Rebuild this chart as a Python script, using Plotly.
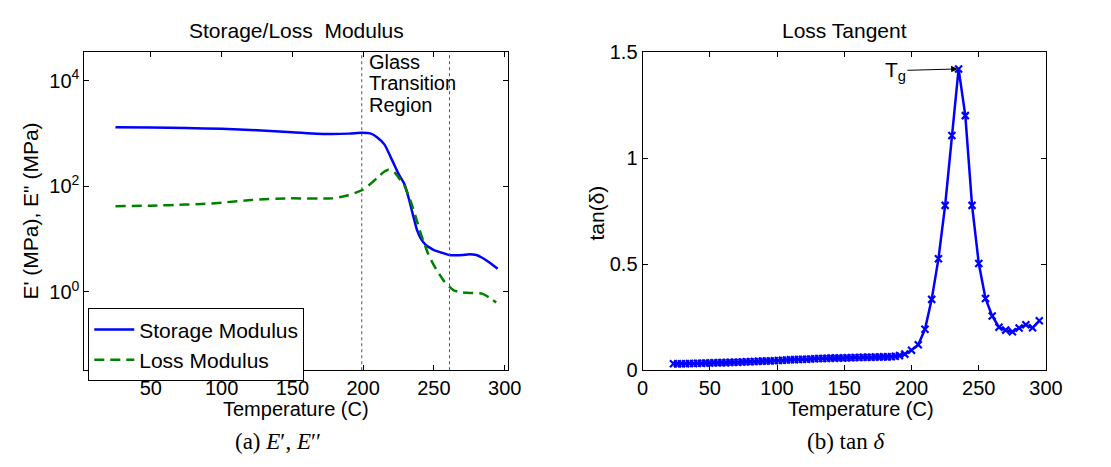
import plotly.graph_objects as go

# ---------------- data ----------------
# Left panel: storage / loss modulus (MPa) vs temperature (C)
storage_temp = [25, 50, 75, 100, 125, 150, 175, 190, 199, 205, 210, 215, 220, 225, 229,
                232, 235, 238, 241, 244, 247, 250, 255, 261, 265, 270, 275, 280, 285, 290, 295]
storage_mod = [1310, 1290, 1260, 1220, 1150, 1050, 975, 990, 1025, 1000, 840, 620, 330, 171, 112,
               62, 30, 15, 10, 7.9, 6.9, 6.2, 5.6, 5.0, 4.95, 5.0, 5.2, 5.0, 4.3, 3.5, 2.75]

loss_temp = [25, 50, 75, 86, 100, 121, 148, 178, 188, 199, 205, 210, 215, 218, 222, 226, 229,
             232, 235, 238, 241, 243, 246, 250, 257, 264, 270, 275, 284, 289, 294]
loss_mod = [42, 43, 45, 46, 49, 55, 59, 59, 66, 84, 110, 145, 190, 205, 185, 135, 105,
            68, 40, 22, 12, 8.6, 5.2, 3.2, 1.62, 1.07, 0.98, 0.96, 0.93, 0.79, 0.63]

# Right panel: loss tangent
tan_temp = [23, 26, 29, 32, 35, 38, 41, 44, 47, 50, 53, 56, 59, 62, 65, 68, 71, 74, 77, 80,
            83, 86, 89, 92, 95, 98, 101, 104, 107, 110, 113, 116, 119, 122, 125, 128, 131, 134,
            137, 140, 143, 146, 149, 152, 155, 158, 161, 164, 167, 170, 173, 176, 179, 182, 185,
            188, 191, 195, 200, 205, 210, 215, 220, 225, 230, 235, 240, 245, 250, 255, 260, 265,
            270, 275, 280, 285, 290, 295]
tan_delta = [0.031, 0.030, 0.031, 0.031, 0.032, 0.032, 0.033, 0.033, 0.034, 0.034, 0.035, 0.035,
             0.036, 0.036, 0.037, 0.038, 0.038, 0.039, 0.040, 0.040, 0.041, 0.042, 0.043, 0.044,
             0.044, 0.045, 0.046, 0.047, 0.048, 0.049, 0.050, 0.051, 0.052, 0.052, 0.053, 0.054,
             0.055, 0.055, 0.056, 0.057, 0.057, 0.058, 0.058, 0.059, 0.059, 0.060, 0.060, 0.061,
             0.061, 0.061, 0.062, 0.062, 0.063, 0.063, 0.064, 0.066, 0.069, 0.076, 0.094, 0.120,
             0.193, 0.334, 0.525, 0.777, 1.106, 1.420, 1.200, 0.777, 0.503, 0.338, 0.256, 0.203,
             0.189, 0.181, 0.199, 0.214, 0.200, 0.233]

glass_region = [199, 261]
glass_label = ["Glass", "Transition", "Region"]
tg_temp, tg_value = 235, 1.420

left_xticks = [50, 100, 150, 200, 250, 300]
left_yticks = [1, 100, 10000]
left_yticktext = ["10<sup>0</sup>", "10<sup>2</sup>", "10<sup>4</sup>"]
right_xticks = [0, 50, 100, 150, 200, 250, 300]
right_yticks = [0, 0.5, 1, 1.5]
right_yticktext = ["0", "0.5", "1", "1.5"]

# ---------------- figure ----------------
W, H = 1111, 467
FONT = "Liberation Sans"
SERIF = "Liberation Serif"
FS = 21
TFS = 20


def px_x(p):
    return p / W


def px_y(p):
    return (H - p) / H


fig = go.Figure()

fig.add_trace(go.Scatter(x=storage_temp, y=storage_mod, mode="lines", name="Storage Modulus",
                         line=dict(color="#0000ff", width=2.5, shape="spline", smoothing=0.6),
                         xaxis="x", yaxis="y"))
fig.add_trace(go.Scatter(x=loss_temp, y=loss_mod, mode="lines", name="Loss Modulus",
                         line=dict(color="#008000", width=2.5, dash="10px,6px", shape="spline",
                                   smoothing=0.6),
                         xaxis="x", yaxis="y"))
fig.add_trace(go.Scatter(x=tan_temp, y=tan_delta, mode="lines+markers", showlegend=False,
                         line=dict(color="#0000ff", width=2.5),
                         marker=dict(symbol="x-thin", size=7, color="#0000ff",
                                     line=dict(color="#0000ff", width=2.2)),
                         xaxis="x2", yaxis="y2"))

axis_common = dict(showline=True, linecolor="black", linewidth=1, mirror="ticks",
                   ticks="inside", ticklen=5, tickcolor="black", showgrid=False,
                   zeroline=False, tickfont=dict(family=FONT, size=TFS, color="black"))

ydom = [px_y(377), px_y(43)]
fig.update_layout(
    width=W, height=H,
    margin=dict(l=0, r=0, t=0, b=0),
    paper_bgcolor="white", plot_bgcolor="white",
    font=dict(family=FONT, size=FS, color="black"),
    xaxis=dict(domain=[px_x(80), px_x(513)], range=[3, 302.6], tickvals=left_xticks,
               anchor="y", **axis_common),
    yaxis=dict(domain=ydom, type="log", range=[-1.48, 4.54], tickvals=left_yticks,
               ticktext=left_yticktext, anchor="x", **axis_common),
    xaxis2=dict(domain=[px_x(650), px_x(1062)], range=[0, 300], tickvals=right_xticks,
                anchor="y2", **axis_common),
    yaxis2=dict(domain=ydom, range=[0, 1.5], tickvals=right_yticks, ticktext=right_yticktext,
                anchor="x2", **axis_common),
    legend=dict(x=px_x(84), y=px_y(312), xanchor="left", yanchor="top",
                bgcolor="white", bordercolor="black", borderwidth=1,
                font=dict(family=FONT, size=FS, color="black"), itemwidth=40,
                tracegroupgap=0),
    showlegend=True,
)

for t in glass_region:
    fig.add_shape(type="line", xref="x", yref="y domain", x0=t, x1=t, y0=0, y1=1,
                  line=dict(color="#555555", width=1, dash="dot"))

ann = []
for word, ypx in zip(glass_label, [53, 76, 99]):
    ann.append(dict(text=word, x=202.5, xref="x", y=px_y(ypx), yref="paper",
                    xanchor="left", yanchor="middle", align="left", showarrow=False,
                    font=dict(family=FONT, size=20, color="black")))
ann.append(dict(text="T<sub>g</sub>", x=tg_temp - 0.7, y=tg_value, xref="x2", yref="y2",
                ax=188, ay=1.412, axref="x2", ayref="y2", showarrow=True, arrowhead=2,
                arrowsize=1.3, arrowwidth=1, arrowcolor="black",
                font=dict(family=FONT, size=FS, color="black")))
# titles
ann.append(dict(text="Storage/Loss  Modulus", x=px_x(297), y=px_y(20), xref="paper", yref="paper",
                showarrow=False, xanchor="center", yanchor="middle",
                font=dict(family=FONT, size=FS, color="black")))
ann.append(dict(text="Loss Tangent", x=px_x(856), y=px_y(20), xref="paper", yref="paper",
                showarrow=False, xanchor="center", yanchor="middle",
                font=dict(family=FONT, size=FS, color="black")))
# axis titles
ann.append(dict(text="Temperature (C)", x=px_x(296), y=px_y(418), xref="paper", yref="paper",
                showarrow=False, xanchor="center", yanchor="middle",
                font=dict(family=FONT, size=20, color="black")))
ann.append(dict(text="Temperature (C)", x=px_x(873), y=px_y(418), xref="paper", yref="paper",
                showarrow=False, xanchor="center", yanchor="middle",
                font=dict(family=FONT, size=20, color="black")))
ann.append(dict(text="E' (MPa), E\" (MPa)", x=px_x(25), y=px_y(210), xref="paper", yref="paper",
                showarrow=False, xanchor="center", yanchor="middle", textangle=-90,
                font=dict(family=FONT, size=FS, color="black")))
ann.append(dict(text="tan(δ)", x=px_x(602), y=px_y(212), xref="paper", yref="paper",
                showarrow=False, xanchor="center", yanchor="middle", textangle=-90,
                font=dict(family=FONT, size=FS, color="black")))
# captions
ann.append(dict(text="(a) <i>E</i>′, <i>E</i>′′", x=px_x(278), y=px_y(452), xref="paper",
                yref="paper", showarrow=False, xanchor="center", yanchor="middle",
                font=dict(family=SERIF, size=23, color="black")))
ann.append(dict(text="(b) tan <i>δ</i>", x=px_x(857), y=px_y(452), xref="paper",
                yref="paper", showarrow=False, xanchor="center", yanchor="middle",
                font=dict(family=SERIF, size=23, color="black")))
fig.update_layout(annotations=ann)

fig.write_html("out.html")
